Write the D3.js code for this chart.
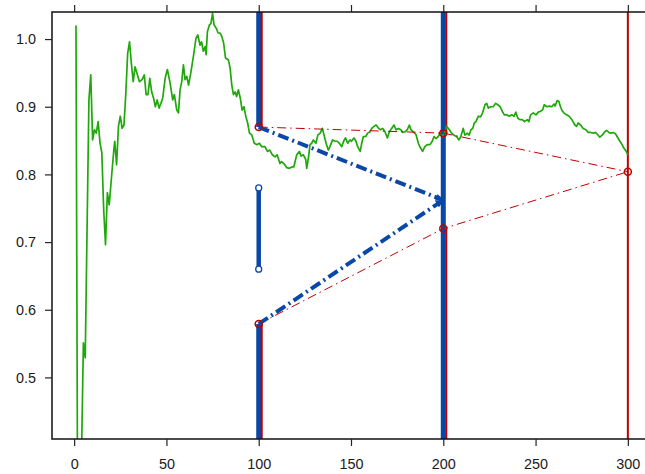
<!DOCTYPE html>
<html>
<head>
<meta charset="utf-8">
<script src="https://cdn.jsdelivr.net/npm/d3@7/dist/d3.min.js"></script>
<style>
  html, body { margin: 0; padding: 0; background: #ffffff; }
  svg { display: block; }
  text { font-family: "Liberation Sans", Arial, sans-serif; }
</style>
</head>
<body>
<svg id="chart" width="645" height="474"></svg>
<script>
// Running estimate over the steps
const steps = [1,2,3,4,5,6,8,9,10,11,12,13,14,15,16,17,18,19,20,21.5,22,23,24,25,26,27,28,29,30,31,32,33,34,35.4,36.8,38,39,40,41,42,43,44,45,46,47,48,49.3,50.5,52,53.4,54.3,55.6,56.5,57.4,58.3,59.2,60.1,61,62,63.2,64.6,66,67,68.2,69,70,71,71.5,72.2,73.3,74.1,75,75.8,77,78,79,80,81,82,83.6,84.5,85.4,86.3,87.2,88,89,90,91,92,93,94,95,96.3,97.6,99,100.4,101.6,103.4,104.7,106,107.4,108.8,110,111.5,112.4,113.6,115.2,116.6,118,119,120.6,122,123,124.2,125.5,126,127,127.8,128.7,129.6,131,132,133.3,134.5,135.4,136.5,137.7,138.6,140,141.4,142.6,143.7,145,146,147,148.2,149.4,150.3,151.6,152.7,153.6,155,155.8,156.7,158,159,160.3,161.2,162.5,163.6,165,166,167.2,168.4,169.7,170.8,172,173.3,174.4,175.7,177,178,179.3,180.5,181.6,182.5,183.7,185.2,186.5,187.7,188.8,190,191.3,192.8,194,195,196,197.3,198.2,199.5,200.6,201.8,203.3,204.5,205.8,207.2,208.5,209.5,210.8,211.7,213,214,215,216,216.8,217.7,219,220.2,221.3,222.6,223.5,224.4,225.7,227,228.4,229.5,230.8,232,233.1,234.4,235.7,237.1,238.4,239.3,240.4,241.5,242.8,244,245.5,246.4,247.3,248.8,250.2,251.5,252.4,253.8,254.7,256,257.5,258.8,260,260.6,261.7,262.6,263.5,264.4,265.3,266.8,268.2,269.4,270.3,271.3,272.2,273.1,274.4,275.8,277.3,278.5,279.8,281.3,282.5,283.6,284.8,286.1,287.2,288.4,289.7,290.7,292,293.3,294.4,295.7,296.9,297.8,298.9,300];
const estimate = [1.020,0.200,0.300,0.385,0.551,0.529,0.910,0.947,0.851,0.866,0.861,0.878,0.847,0.832,0.748,0.696,0.773,0.755,0.788,0.836,0.849,0.814,0.871,0.886,0.868,0.873,0.920,0.979,0.996,0.964,0.937,0.959,0.950,0.937,0.940,0.947,0.918,0.918,0.942,0.922,0.913,0.900,0.910,0.898,0.905,0.913,0.942,0.955,0.935,0.910,0.918,0.895,0.891,0.925,0.937,0.962,0.940,0.945,0.932,0.950,0.974,1.001,1.006,0.991,0.996,0.982,0.989,0.977,1.011,1.021,1.023,1.038,1.021,1.016,1.009,1.009,1.004,0.994,0.972,0.969,0.957,0.932,0.918,0.922,0.915,0.925,0.913,0.895,0.900,0.886,0.876,0.861,0.858,0.846,0.844,0.846,0.841,0.841,0.834,0.836,0.829,0.826,0.829,0.816,0.819,0.816,0.810,0.809,0.811,0.811,0.829,0.834,0.827,0.829,0.822,0.809,0.826,0.844,0.846,0.851,0.846,0.858,0.861,0.868,0.858,0.846,0.836,0.841,0.851,0.849,0.849,0.846,0.841,0.849,0.854,0.846,0.851,0.849,0.854,0.849,0.841,0.834,0.846,0.856,0.856,0.861,0.863,0.868,0.871,0.873,0.868,0.866,0.868,0.863,0.854,0.863,0.868,0.873,0.866,0.868,0.866,0.862,0.863,0.866,0.873,0.866,0.863,0.859,0.846,0.839,0.834,0.841,0.844,0.844,0.849,0.856,0.853,0.856,0.861,0.856,0.861,0.871,0.866,0.861,0.858,0.856,0.851,0.856,0.868,0.858,0.861,0.858,0.866,0.868,0.876,0.878,0.886,0.885,0.891,0.903,0.905,0.898,0.900,0.900,0.905,0.903,0.900,0.893,0.888,0.888,0.886,0.888,0.886,0.892,0.883,0.881,0.881,0.878,0.881,0.878,0.888,0.891,0.888,0.892,0.893,0.895,0.903,0.900,0.901,0.900,0.904,0.901,0.909,0.908,0.900,0.894,0.891,0.888,0.886,0.882,0.878,0.873,0.871,0.876,0.873,0.868,0.866,0.862,0.862,0.861,0.862,0.859,0.855,0.858,0.862,0.865,0.862,0.861,0.862,0.860,0.855,0.849,0.844,0.839,0.835,0.829];

// Checkpoints and interval bounds
const checkStep  = [100, 200, 300];
const upperBound = [0.870, 0.861, 0.804];
const lowerBound = [0.579, 0.720, 0.804];
const blueTarget = 0.762;            // where the blue projections meet at step 200
const shortBar   = [0.660, 0.780];   // short interval at step 100

const xTicks = [0, 50, 100, 150, 200, 250, 300];
const yTicks = [0.5, 0.6, 0.7, 0.8, 0.9, 1.0];

const svg = d3.select("#chart");

const x = d3.scaleLinear().domain([-12, 312]).range([52, 650]);
const y = d3.scaleLinear().domain([0.409, 1.04]).range([439, 12]);

const BLUE = "#0a48a8", RED = "#c00000", GREEN = "#1fa80a";

const defs = svg.append("defs");
defs.append("clipPath").attr("id", "plotclip")
  .append("rect")
  .attr("x", x(-12)).attr("y", y(1.04))
  .attr("width", x(312) - x(-12)).attr("height", y(0.409) - y(1.04));

defs.append("marker")
  .attr("id", "bluehead").attr("viewBox", "0 0 10 10")
  .attr("refX", 9).attr("refY", 5)
  .attr("markerWidth", 2.1).attr("markerHeight", 1.8)
  .attr("markerUnits", "strokeWidth")
  .attr("orient", "auto")
  .attr("preserveAspectRatio", "none")
  .append("path").attr("d", "M0,0 L10,5 L0,10 Z").attr("fill", BLUE);

const plot = svg.append("g").attr("clip-path", "url(#plotclip)");
const yTop = y.range()[1], yBottom = y.range()[0];

// Vertical interval rays: blue at the checkpoint, red slightly to the right
function vline(xv, y1, y2, color, width, dx) {
  plot.append("line")
    .attr("x1", x(xv) + dx).attr("x2", x(xv) + dx)
    .attr("y1", y1).attr("y2", y2)
    .attr("stroke", color).attr("stroke-width", width);
}
// step 100: rays above the upper bound and below the lower bound
vline(checkStep[0], yTop, y(upperBound[0]), BLUE, 5, 0);
vline(checkStep[0], y(lowerBound[0]), yBottom, BLUE, 5, 0);
vline(checkStep[0], yTop, y(upperBound[0]), RED, 2, 3);
vline(checkStep[0], y(lowerBound[0]), yBottom, RED, 2, 3);
// step 200: blue spans the full height, red split around the bounds
vline(checkStep[1], yTop, yBottom, BLUE, 5, 0);
vline(checkStep[1], yTop, y(upperBound[1]), RED, 2, 3);
vline(checkStep[1], y(lowerBound[1]), yBottom, RED, 2, 3);
// step 300: full red line
vline(checkStep[2], yTop, yBottom, RED, 2, 0);

// short blue interval with open ends
plot.append("line")
  .attr("x1", x(100)).attr("x2", x(100))
  .attr("y1", y(shortBar[0])).attr("y2", y(shortBar[1]))
  .attr("stroke", BLUE).attr("stroke-width", 4.5);
shortBar.forEach(v => {
  plot.append("circle").attr("cx", x(100)).attr("cy", y(v)).attr("r", 3)
    .attr("fill", "white").attr("stroke", BLUE).attr("stroke-width", 1.3);
});

// Running estimate
plot.append("path")
  .datum(steps.map((s, i) => [s, estimate[i]]))
  .attr("fill", "none").attr("stroke", GREEN).attr("stroke-width", 1.7)
  .attr("stroke-linejoin", "round")
  .attr("d", d3.line().x(d => x(d[0])).y(d => y(d[1])));

// Red dash-dot connectors through the bounds
const redLine = d3.line().x(d => x(d[0])).y(d => y(d[1]));
[upperBound, lowerBound].forEach(b => {
  plot.append("path")
    .datum(checkStep.map((s, i) => [s, b[i]]))
    .attr("fill", "none").attr("stroke", RED).attr("stroke-width", 1)
    .attr("stroke-dasharray", "9,4,1.5,4")
    .attr("d", redLine);
});

// Blue projections towards step 200
[upperBound[0], lowerBound[0]].forEach(v => {
  plot.append("line")
    .attr("x1", x(100)).attr("y1", y(v))
    .attr("x2", x(200)).attr("y2", y(blueTarget))
    .attr("stroke", BLUE).attr("stroke-width", 4)
    .attr("stroke-dasharray", "11,4,2,4")
    .attr("marker-end", "url(#bluehead)");
});

// Red markers at the bounds
checkStep.forEach((s, i) => {
  const pts = upperBound[i] === lowerBound[i] ? [upperBound[i]] : [upperBound[i], lowerBound[i]];
  pts.forEach(v => {
    plot.append("circle").attr("cx", x(s)).attr("cy", y(v)).attr("r", 3.5)
      .attr("fill", "none").attr("stroke", RED).attr("stroke-width", 1.5);
  });
});

// Frame
svg.append("rect")
  .attr("x", x(-12)).attr("y", y(1.04))
  .attr("width", x(312) - x(-12)).attr("height", y(0.409) - y(1.04))
  .attr("fill", "none").attr("stroke", "#111").attr("stroke-width", 1.5);

// Axes
const bx = svg.append("g").attr("transform", `translate(0,${yBottom})`)
  .call(d3.axisBottom(x).tickValues(xTicks).tickFormat(d3.format("d")).tickSize(7).tickPadding(13));
const tx = svg.append("g").attr("transform", `translate(0,${yTop})`)
  .call(d3.axisTop(x).tickValues(xTicks).tickFormat("").tickSize(7));
const ly = svg.append("g").attr("transform", `translate(${x(-12)},0)`)
  .call(d3.axisLeft(y).tickValues(yTicks).tickFormat(d3.format(".1f")).tickSize(7).tickPadding(9));
[bx, tx, ly].forEach(g => {
  g.select(".domain").remove();
  g.selectAll(".tick line").attr("stroke", "#222").attr("stroke-width", 1.2);
  g.selectAll(".tick text").attr("fill", "#1a1a1a").style("font-size", "14.4px");
});
</script>
</body>
</html>
